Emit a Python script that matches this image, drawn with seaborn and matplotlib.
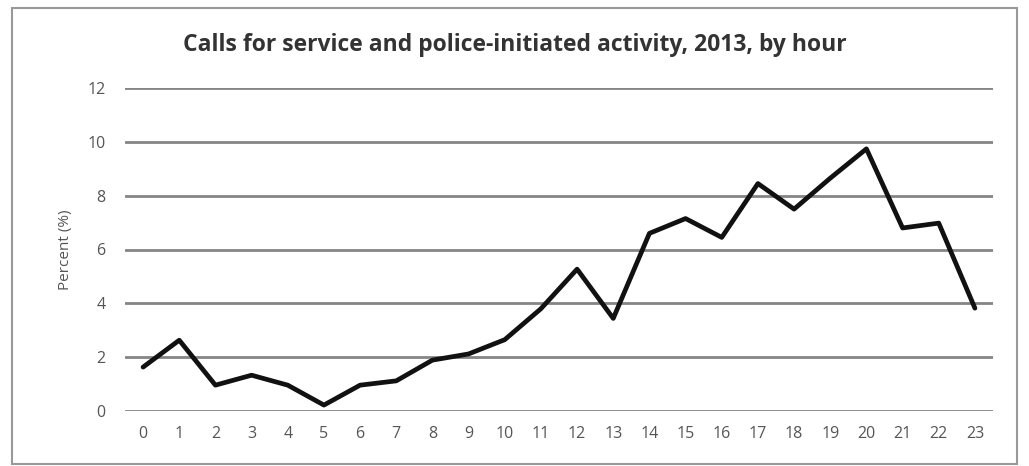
import matplotlib
matplotlib.use("Agg")
import matplotlib.pyplot as plt
import seaborn as sns
import pandas as pd
from matplotlib.patches import Rectangle

hours = list(range(24))
percent = [1.63, 2.63, 0.96, 1.33, 0.96, 0.22, 0.96, 1.12, 1.89, 2.12, 2.65, 3.8,
           5.27, 3.44, 6.6, 7.15, 6.45, 8.45, 7.5, 8.65, 9.74, 6.8, 6.98, 3.82]
yticks = [0, 2, 4, 6, 8, 10, 12]
title = "Calls for service and police-initiated activity, 2013, by hour"
ylabel = "Percent (%)"

sns.set_theme(style="white")
plt.rcParams['font.family'] = ['Open Sans', 'DejaVu Sans']

df = pd.DataFrame({"hour": hours, "percent": percent})

fig = plt.figure(figsize=(10.29, 4.66), dpi=100)
ax = fig.add_axes([125/1029, 1-411/466, (993-125)/1029, (411-88)/466])

for v in yticks:
    ax.axhline(v, color="#858585", lw=2.0, zorder=1)

sns.lineplot(data=df, x="hour", y="percent", ax=ax, color="#111111", lw=3.4, zorder=3)

ax.set_xlim(-0.5, 23.5)
ax.set_ylim(0, 12)
ax.set_xticks(hours)
ax.set_xticklabels([str(h) for h in hours], color="#555555", fontsize=11.5)
ax.set_yticks(yticks)
ax.set_yticklabels([str(v) for v in yticks], color="#555555", fontsize=11.5)
ax.tick_params(axis="x", length=0, pad=11)
ax.tick_params(axis="y", length=0, pad=14)
ax.set_xlabel("")
ax.set_ylabel(ylabel, color="#555555", fontsize=11, labelpad=10)
for s in ax.spines.values():
    s.set_visible(False)

fig.text(515/1029, 1-45/466, title, ha="center", va="center", fontsize=16.5,
         fontweight="bold", color="#333333")

fig.patches.append(Rectangle((12/1029, 2/466), (1017-12)/1029, (458-2)/466,
                             transform=fig.transFigure, fill=False,
                             edgecolor="#999999", lw=1.5))

fig.savefig("out.png", dpi=100)
